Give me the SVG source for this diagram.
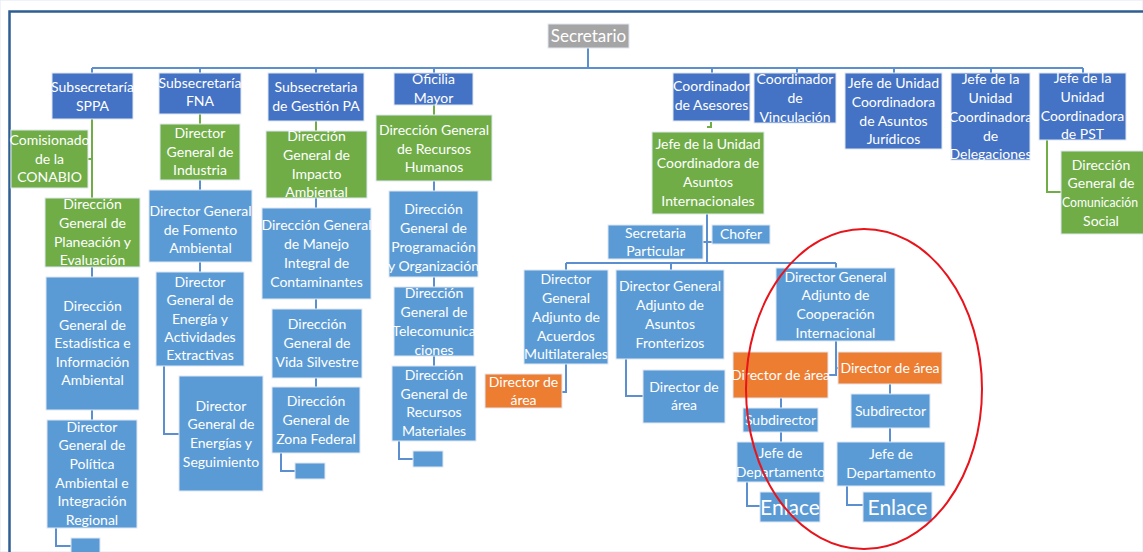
<svg xmlns="http://www.w3.org/2000/svg" width="1143" height="552" viewBox="0 0 1143 552">
<style>
rect{stroke:#dfe8f4;stroke-width:1}
.gy{fill:#a5a5a5}
.db{fill:#4472c4}
.lb{fill:#5b9bd5}
.gr{fill:#70ad47}
.or{fill:#ed7d31}
text{font-family:Lato,"Liberation Sans",sans-serif;font-size:14px;fill:#fff;text-anchor:middle}
.big{font-size:21px}
.sec{font-size:17px}
#connectors path{fill:none;stroke-width:2}
.cb{stroke:#5b8fd0}
.cg{stroke:#70ad47}
</style>
<rect x="0" y="0" width="1143" height="552" fill="#fff" stroke="none"/>
<path d="M9.5 552 V11.5 H1143" fill="none" stroke="#2f5e94" stroke-width="2.5"/>

<g id="connectors">
<path class="cb" d="M588 48 V68 M92 68 H1083 M92 68 V73 M200 68 V73 M316 68 V73 M434 68 V73 M712 68 V73 M797 68 V73 M894 68 V73 M991 68 V73 M1083 68 V73"/>
<path class="cg" d="M92 119 V198 M88 159 H92"/>
<path class="cb" d="M92 267 V277 M92 410 V420 M56 528 V546 H71"/>
<path class="cg" d="M200 114 V124"/>
<path class="cb" d="M200 180 V190 M200 262 V272 M164 366 V434 H179"/>
<path class="cg" d="M316 121 V131"/>
<path class="cb" d="M316 198 V208 M316 299 V309 M316 378 V387 M281 453 V471 H295"/>
<path class="cg" d="M434 105 V115"/>
<path class="cb" d="M434 181 V191 M434 277 V287 M434 356 V366 M399 441 V459 H413"/>
<path class="cg" d="M711 122 V127 H707"/>
<path class="cb" d="M707 214 V263 M703 242 H712 M566 263 H836 M566 263 V270 M671 263 V270 M836 263 V268"/>
<path class="cb" d="M566 364 V392 H562 M626 359 V396 H643 M836 341 V375 H828 M836 368 H838"/>
<path class="cb" d="M781 398 V408 M781 432 V442 M747 482 V506 H760 M890 384 V394 M890 428 V442 M847 486 V505 H863"/>
<path class="cg" d="M1047 140 V192 H1061"/>
</g>

<g id="secretario"><rect class="gy" x="548" y="24" width="81" height="24"/><text class="sec" x="588.5" y="42">Secretario</text></g>
<g id="sppa"><rect class="db" x="52" y="73" width="81" height="46"/><text x="92.5" y="92">Subsecretaría</text><text x="92.5" y="111">SPPA</text></g>
<g id="fna"><rect class="db" x="159" y="73" width="82" height="41"/><text x="200" y="88">Subsecretaría</text><text x="200" y="106">FNA</text></g>
<g id="gpa"><rect class="db" x="268" y="73" width="96" height="48"/><text x="316" y="92">Subsecretaria</text><text x="316" y="111">de Gestión PA</text></g>
<g id="om"><rect class="db" x="394" y="73" width="79" height="32"/><text x="433.5" y="84">Oficilia</text><text x="433.5" y="103">Mayor</text></g>
<g id="ca"><rect class="db" x="673" y="73" width="77" height="48"/><text x="711.5" y="91">Coordinador</text><text x="711.5" y="110">de Asesores</text></g>
<g id="cv"><rect class="db" x="754" y="73" width="82" height="50"/><text x="795" y="84">Coordinador</text><text x="795" y="103">de</text><text x="795" y="122">Vinculación</text></g>
<g id="ucaj"><rect class="db" x="845" y="73" width="97" height="76"/><text x="893.5" y="88">Jefe de Unidad</text><text x="893.5" y="107">Coordinadora</text><text x="893.5" y="126">de Asuntos</text><text x="893.5" y="144">Jurídicos</text></g>
<g id="ucd"><rect class="db" x="951" y="73" width="79" height="87"/><text x="990.5" y="84">Jefe de la</text><text x="990.5" y="103">Unidad</text><text x="990.5" y="122">Coordinadora</text><text x="990.5" y="141">de</text><text x="990.5" y="159">Delegaciones</text></g>
<g id="pst"><rect class="db" x="1039" y="73" width="87" height="67"/><text x="1082.5" y="83">Jefe de la</text><text x="1082.5" y="102">Unidad</text><text x="1082.5" y="121">Coordinadora</text><text x="1082.5" y="139">de PST</text></g>

<g id="conabio"><rect class="gr" x="11" y="130" width="77" height="58"/><text x="49.5" y="145">Comisionado</text><text x="49.5" y="164">de la</text><text x="49.5" y="182">CONABIO</text></g>
<g id="dgpe"><rect class="gr" x="45" y="198" width="95" height="69"/><text x="92.5" y="209">Dirección</text><text x="92.5" y="228">General de</text><text x="92.5" y="247">Planeación y</text><text x="92.5" y="265">Evaluación</text></g>
<g id="dgi"><rect class="gr" x="160" y="124" width="80" height="56"/><text x="200" y="138">Director</text><text x="200" y="157">General de</text><text x="200" y="175">Industria</text></g>
<g id="dgia"><rect class="gr" x="266" y="131" width="101" height="67"/><text x="316.5" y="141">Dirección</text><text x="316.5" y="160">General de</text><text x="316.5" y="179">Impacto</text><text x="316.5" y="197">Ambiental</text></g>
<g id="dgrh"><rect class="gr" x="376" y="115" width="116" height="66"/><text x="434" y="135">Dirección General</text><text x="434" y="154">de Recursos</text><text x="434" y="172">Humanos</text></g>
<g id="ucai"><rect class="gr" x="652" y="132" width="112" height="82"/><text x="708" y="149">Jefe de la Unidad</text><text x="708" y="168">Coordinadora de</text><text x="708" y="187">Asuntos</text><text x="708" y="206">Internacionales</text></g>
<g id="dgcs"><rect class="gr" x="1061" y="151" width="90" height="83"/><text x="1101" y="170">Dirección</text><text x="1101" y="188">General de</text><text x="1100" y="207" textLength="76" lengthAdjust="spacingAndGlyphs">Comunicación</text><text x="1101" y="226">Social</text></g>

<g id="dgeia"><rect class="lb" x="46" y="277" width="93" height="133"/><text x="92.5" y="311">Dirección</text><text x="92.5" y="330">General de</text><text x="92.5" y="348">Estadística e</text><text x="92.5" y="367">Información</text><text x="92.5" y="385">Ambiental</text></g>
<g id="dgpair"><rect class="lb" x="47" y="420" width="90" height="108"/><text x="92" y="432">Director</text><text x="92" y="450">General de</text><text x="92" y="469">Política</text><text x="92" y="488">Ambiental e</text><text x="92" y="506">Integración</text><text x="92" y="525">Regional</text></g>
<g id="sppa-sub"><rect class="lb" x="71" y="538" width="29" height="20"/></g>
<g id="dgfa"><rect class="lb" x="149" y="190" width="103" height="72"/><text x="200.5" y="216">Director General</text><text x="200.5" y="235">de Fomento</text><text x="200.5" y="253">Ambiental</text></g>
<g id="dgeae"><rect class="lb" x="156" y="272" width="88" height="94"/><text x="200" y="287">Director</text><text x="200" y="305">General de</text><text x="200" y="324">Energía y</text><text x="200" y="342">Actividades</text><text x="200" y="360">Extractivas</text></g>
<g id="dges"><rect class="lb" x="179" y="376" width="84" height="115"/><text x="221" y="411">Director</text><text x="221" y="429">General de</text><text x="221" y="448">Energías y</text><text x="221" y="467">Seguimiento</text></g>
<g id="dgmic"><rect class="lb" x="262" y="208" width="109" height="91"/><text x="316.5" y="230">Dirección General</text><text x="316.5" y="249">de Manejo</text><text x="316.5" y="268">Integral de</text><text x="316.5" y="287">Contaminantes</text></g>
<g id="dgvs"><rect class="lb" x="272" y="309" width="90" height="69"/><text x="317" y="329">Dirección</text><text x="317" y="348">General de</text><text x="317" y="367">Vida Silvestre</text></g>
<g id="dgzf"><rect class="lb" x="272" y="387" width="88" height="66"/><text x="316" y="406">Dirección</text><text x="316" y="425">General de</text><text x="316" y="444">Zona Federal</text></g>
<g id="gpa-sub"><rect class="lb" x="295" y="463" width="30" height="16"/></g>
<g id="dgpo"><rect class="lb" x="389" y="191" width="89" height="86"/><text x="433.5" y="214">Dirección</text><text x="433.5" y="233">General de</text><text x="433.5" y="252">Programación</text><text x="433.5" y="271">y Organización</text></g>
<g id="dgt"><rect class="lb" x="394" y="287" width="80" height="69"/><text x="434" y="298">Dirección</text><text x="434" y="317">General de</text><text x="434" y="336">Telecomunica</text><text x="434" y="355">ciones</text></g>
<g id="dgrm"><rect class="lb" x="392" y="366" width="84" height="75"/><text x="434" y="380">Dirección</text><text x="434" y="399">General de</text><text x="434" y="417">Recursos</text><text x="434" y="436">Materiales</text></g>
<g id="om-sub"><rect class="lb" x="413" y="451" width="30" height="16"/></g>
<g id="sp"><rect class="lb" x="608" y="225" width="95" height="34"/><text x="655.5" y="238">Secretaria</text><text x="655.5" y="256">Particular</text></g>
<g id="chofer"><rect class="lb" x="712" y="225" width="58" height="19"/><text x="741" y="239">Chofer</text></g>
<g id="dgaam"><rect class="lb" x="524" y="270" width="84" height="94"/><text x="566" y="284">Director</text><text x="566" y="303">General</text><text x="566" y="322">Adjunto de</text><text x="566" y="341">Acuerdos</text><text x="566" y="359">Multilaterales</text></g>
<g id="da1"><rect class="or" x="485" y="374" width="77" height="34"/><text x="523.5" y="387">Director de</text><text x="523.5" y="405">área</text></g>
<g id="dgaaf"><rect class="lb" x="616" y="270" width="108" height="89"/><text x="670" y="291">Director General</text><text x="670" y="310">Adjunto de</text><text x="670" y="329">Asuntos</text><text x="670" y="348">Fronterizos</text></g>
<g id="da2"><rect class="lb" x="643" y="370" width="82" height="53"/><text x="684" y="392">Director de</text><text x="684" y="410">área</text></g>
<g id="dgaci"><rect class="lb" x="776" y="268" width="119" height="73"/><text x="835.5" y="282">Director General</text><text x="835.5" y="300">Adjunto de</text><text x="835.5" y="319">Cooperación</text><text x="835.5" y="338">Internacional</text></g>
<g id="da3"><rect class="or" x="733" y="352" width="95" height="46"/><text x="780.5" y="380">Director de área</text></g>
<g id="da4"><rect class="or" x="838" y="352" width="104" height="32"/><text x="890" y="373">Director de área</text></g>
<g id="sub1"><rect class="lb" x="743" y="408" width="75" height="24"/><text x="780.5" y="425">Subdirector</text></g>
<g id="jd1"><rect class="lb" x="737" y="442" width="87" height="40"/><text x="780.5" y="458">Jefe de</text><text x="780.5" y="477">Departamento</text></g>
<g id="en1"><rect class="lb" x="760" y="492" width="60" height="30"/><text class="big" x="790" y="515">Enlace</text></g>
<g id="sub2"><rect class="lb" x="851" y="394" width="79" height="34"/><text x="890.5" y="416">Subdirector</text></g>
<g id="jd2"><rect class="lb" x="837" y="442" width="108" height="44"/><text x="891" y="459">Jefe de</text><text x="891" y="478">Departamento</text></g>
<g id="en2"><rect class="lb" x="863" y="492" width="69" height="30"/><text class="big" x="897.5" y="515">Enlace</text></g>

<ellipse cx="864" cy="389" rx="118" ry="160" fill="none" stroke="#e8141b" stroke-width="2"/>
</svg>
